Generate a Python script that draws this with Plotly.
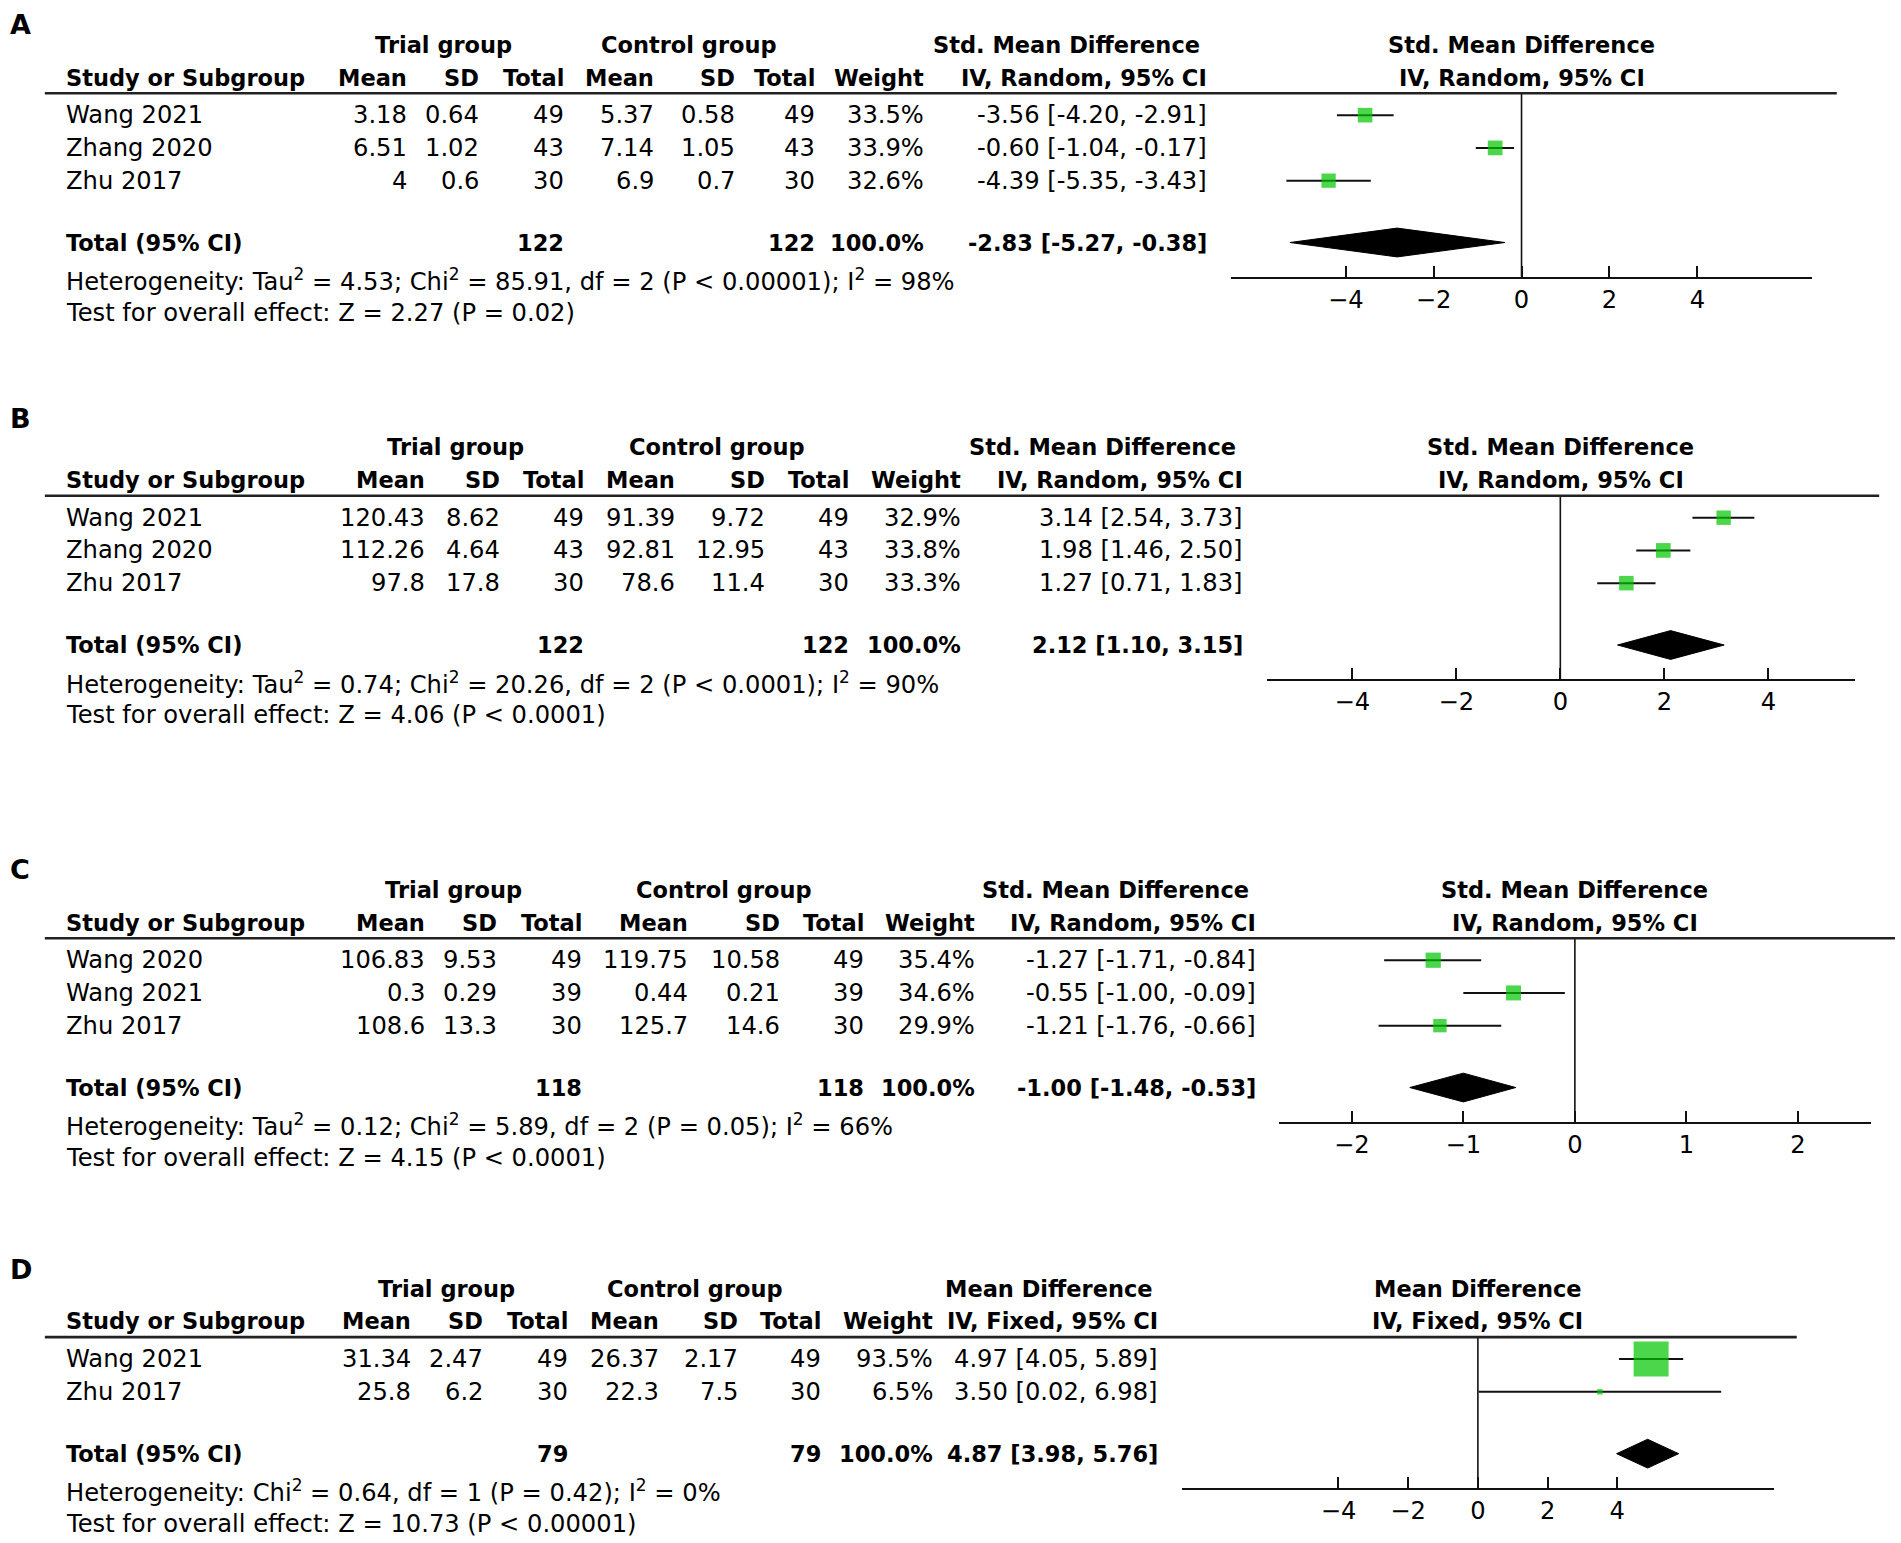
import plotly.graph_objects as go

W, H = 1901, 1543
S = W / 1568.0          # layout constants below are measured on a 1568-wide grid

# ------------------------------------------------------------------ data
A_study = ["Wang 2021", "Zhang 2020", "Zhu 2017"]
A_trial_mean = [3.18, 6.51, 4]
A_trial_sd = [0.64, 1.02, 0.6]
A_trial_n = [49, 43, 30]
A_ctrl_mean = [5.37, 7.14, 6.9]
A_ctrl_sd = [0.58, 1.05, 0.7]
A_ctrl_n = [49, 43, 30]
A_weight = [33.5, 33.9, 32.6]
A_total_weight = 100.0
A_est = [-3.56, -0.60, -4.39]
A_lo = [-4.20, -1.04, -5.35]
A_hi = [-2.91, -0.17, -3.43]
A_total = [-2.83, -5.27, -0.38]
A_ticks = [-4, -2, 0, 2, 4]
A_measure = ["Std. Mean Difference", "IV, Random, 95% CI"]
A_het = "Heterogeneity: Tau<sup>2</sup> = 4.53; Chi<sup>2</sup> = 85.91, df = 2 (P &lt; 0.00001); I<sup>2</sup> = 98%"
A_test = "Test for overall effect: Z = 2.27 (P = 0.02)"

B_study = ["Wang 2021", "Zhang 2020", "Zhu 2017"]
B_trial_mean = [120.43, 112.26, 97.8]
B_trial_sd = [8.62, 4.64, 17.8]
B_trial_n = [49, 43, 30]
B_ctrl_mean = [91.39, 92.81, 78.6]
B_ctrl_sd = [9.72, 12.95, 11.4]
B_ctrl_n = [49, 43, 30]
B_weight = [32.9, 33.8, 33.3]
B_total_weight = 100.0
B_est = [3.14, 1.98, 1.27]
B_lo = [2.54, 1.46, 0.71]
B_hi = [3.73, 2.50, 1.83]
B_total = [2.12, 1.10, 3.15]
B_ticks = [-4, -2, 0, 2, 4]
B_measure = ["Std. Mean Difference", "IV, Random, 95% CI"]
B_het = "Heterogeneity: Tau<sup>2</sup> = 0.74; Chi<sup>2</sup> = 20.26, df = 2 (P &lt; 0.0001); I<sup>2</sup> = 90%"
B_test = "Test for overall effect: Z = 4.06 (P &lt; 0.0001)"

C_study = ["Wang 2020", "Wang 2021", "Zhu 2017"]
C_trial_mean = [106.83, 0.3, 108.6]
C_trial_sd = [9.53, 0.29, 13.3]
C_trial_n = [49, 39, 30]
C_ctrl_mean = [119.75, 0.44, 125.7]
C_ctrl_sd = [10.58, 0.21, 14.6]
C_ctrl_n = [49, 39, 30]
C_weight = [35.4, 34.6, 29.9]
C_total_weight = 100.0
C_est = [-1.27, -0.55, -1.21]
C_lo = [-1.71, -1.00, -1.76]
C_hi = [-0.84, -0.09, -0.66]
C_total = [-1.00, -1.48, -0.53]
C_ticks = [-2, -1, 0, 1, 2]
C_measure = ["Std. Mean Difference", "IV, Random, 95% CI"]
C_het = "Heterogeneity: Tau<sup>2</sup> = 0.12; Chi<sup>2</sup> = 5.89, df = 2 (P = 0.05); I<sup>2</sup> = 66%"
C_test = "Test for overall effect: Z = 4.15 (P &lt; 0.0001)"

D_study = ["Wang 2021", "Zhu 2017"]
D_trial_mean = [31.34, 25.8]
D_trial_sd = [2.47, 6.2]
D_trial_n = [49, 30]
D_ctrl_mean = [26.37, 22.3]
D_ctrl_sd = [2.17, 7.5]
D_ctrl_n = [49, 30]
D_weight = [93.5, 6.5]
D_total_weight = 100.0
D_est = [4.97, 3.50]
D_lo = [4.05, 0.02]
D_hi = [5.89, 6.98]
D_total = [4.87, 3.98, 5.76]
D_ticks = [-4, -2, 0, 2, 4]
D_measure = ["Mean Difference", "IV, Fixed, 95% CI"]
D_het = "Heterogeneity: Chi<sup>2</sup> = 0.64, df = 1 (P = 0.42); I<sup>2</sup> = 0%"
D_test = "Test for overall effect: Z = 10.73 (P &lt; 0.00001)"

# ------------------------------------------------------------------ layout constants (1568 grid)
GEOM = {
    "A": dict(label_y=20, row0=95, cols=[337, 397, 467, 541, 608, 674, 764, 997],
              trial=366, ctrl=568, eff=880, line_r=1515, ax=(1015, 1495), zero=1255, unit=36.25),
    "B": dict(label_y=345, row0=427, cols=[352, 414, 483, 558, 633, 702, 794, 1027],
              trial=376, ctrl=591, eff=909, line_r=1550, ax=(1045, 1530), zero=1287, unit=42.9),
    "C": dict(label_y=717, row0=792, cols=[352, 412, 482, 569, 645, 714, 806, 1038],
              trial=374, ctrl=597, eff=920, line_r=1563, ax=(1055, 1543), zero=1299, unit=92.0),
    "D": dict(label_y=1047, row0=1121, cols=[341, 400, 470, 545, 610, 679, 771, 957],
              trial=368, ctrl=573, eff=865, line_r=1482, ax=(975, 1463), zero=1219, unit=28.75),
}
ROW = 27.0
LEFT_TXT = 53
LINE_L = 37
GREEN = "#00c400"
FONT = "DejaVu Sans"
FS = 24.2      # regular text
FSB = 22.5     # bold text

PANELS = [
    ("A", A_study, A_trial_mean, A_trial_sd, A_trial_n, A_ctrl_mean, A_ctrl_sd, A_ctrl_n,
     A_weight, A_total_weight, A_est, A_lo, A_hi, A_total, A_ticks, A_measure, A_het, A_test),
    ("B", B_study, B_trial_mean, B_trial_sd, B_trial_n, B_ctrl_mean, B_ctrl_sd, B_ctrl_n,
     B_weight, B_total_weight, B_est, B_lo, B_hi, B_total, B_ticks, B_measure, B_het, B_test),
    ("C", C_study, C_trial_mean, C_trial_sd, C_trial_n, C_ctrl_mean, C_ctrl_sd, C_ctrl_n,
     C_weight, C_total_weight, C_est, C_lo, C_hi, C_total, C_ticks, C_measure, C_het, C_test),
    ("D", D_study, D_trial_mean, D_trial_sd, D_trial_n, D_ctrl_mean, D_ctrl_sd, D_ctrl_n,
     D_weight, D_total_weight, D_est, D_lo, D_hi, D_total, D_ticks, D_measure, D_het, D_test),
]


def px(v):
    return v * S


def xp(v):
    return px(v) / W


def yp_px(v):
    return 1 - px(v) / H


def num(v):
    return f"{v:g}"


def eff(e, l, h):
    return f"{e:.2f} [{l:.2f}, {h:.2f}]"


fig = go.Figure()
annotations = []
shapes = []
layout_axes = {}


def ann(text, x, y, anchor="right", size=None, bold=False):
    if size is None:
        size = FSB if bold else FS
    if bold:
        text = f"<b>{text}</b>"
    annotations.append(dict(text=text, x=x, y=y, xref="paper", yref="paper",
                            xanchor=anchor, yanchor="middle", showarrow=False,
                            font=dict(family=FONT, size=size, color="black")))


for k, p in enumerate(PANELS, start=1):
    (name, study, tm, tsd, tn, cm, csd, cn, wt, twt, est, lo, hi, tot, ticks,
     measure, het, test) = p
    g = GEOM[name]
    n = len(study)

    def rowy(r):
        return yp_px(g["row0"] + r * ROW)

    r_head = -0.67
    r_total = n + 0.89
    r_axis = n + 1.93
    cols = g["cols"]

    # panel letter
    ann(name, xp(7), yp_px(g["label_y"]), anchor="left", size=27, bold=True)

    # header row 1
    ann("Trial group", xp(g["trial"]), rowy(-2.15), anchor="center", bold=True)
    ann("Control group", xp(g["ctrl"]), rowy(-2.15), anchor="center", bold=True)
    ann(measure[0], xp(g["eff"]), rowy(-2.15), anchor="center", bold=True)
    # header row 2
    ann("Study or Subgroup", xp(LEFT_TXT), rowy(-1.15), anchor="left", bold=True)
    for txt, c in zip(["Mean", "SD", "Total", "Mean", "SD", "Total", "Weight", measure[1]], cols):
        ann(txt, xp(c), rowy(-1.15), bold=True)

    # study rows
    for i in range(n):
        ann(study[i], xp(LEFT_TXT), rowy(i), anchor="left")
        vals = [num(tm[i]), num(tsd[i]), num(tn[i]), num(cm[i]), num(csd[i]), num(cn[i]),
                f"{wt[i]:.1f}%", eff(est[i], lo[i], hi[i])]
        for v, c in zip(vals, cols):
            ann(v, xp(c), rowy(i))

    # total row
    ann("Total (95% CI)", xp(LEFT_TXT), rowy(r_total), anchor="left", bold=True)
    ann(str(sum(tn)), xp(cols[2]), rowy(r_total), bold=True)
    ann(str(sum(cn)), xp(cols[5]), rowy(r_total), bold=True)
    ann(f"{twt:.1f}%", xp(cols[6]), rowy(r_total), bold=True)
    ann(eff(*tot), xp(cols[7]), rowy(r_total), bold=True)
    ann(het, xp(LEFT_TXT), rowy(r_total + 1.15), anchor="left")
    ann(test, xp(LEFT_TXT), rowy(r_total + 2.15), anchor="left")

    # header rule
    shapes.append(dict(type="line", xref="paper", yref="paper",
                       x0=xp(LINE_L), x1=xp(g["line_r"]), y0=rowy(r_head), y1=rowy(r_head),
                       line=dict(color="#222", width=2.6)))

    # axes for the forest plot
    xa = "xaxis" if k == 1 else f"xaxis{k}"
    ya = "yaxis" if k == 1 else f"yaxis{k}"
    xr = "x" if k == 1 else f"x{k}"
    yr = "y" if k == 1 else f"y{k}"
    axl, axr = g["ax"]
    layout_axes[xa] = dict(domain=[xp(axl), xp(axr)],
                           range=[(axl - g["zero"]) / g["unit"], (axr - g["zero"]) / g["unit"]],
                           anchor=yr, tickvals=ticks, ticks="inside", ticklen=11, tickwidth=2,
                           tickcolor="#111", showline=True, linecolor="#111", linewidth=2,
                           showgrid=False, zeroline=False, ticklabelstandoff=0,
                           tickfont=dict(family=FONT, size=FS, color="black"), fixedrange=True)
    layout_axes[ya] = dict(domain=[rowy(r_axis), rowy(r_head)], range=[r_axis, r_head],
                           anchor=xr, visible=False, fixedrange=True)

    # right-hand header
    mid = (xp(axl) + xp(axr)) / 2
    ann(measure[0], mid, rowy(-2.15), anchor="center", bold=True)
    ann(measure[1], mid, rowy(-1.15), anchor="center", bold=True)

    # line of no effect
    shapes.append(dict(type="line", xref=xr, yref=f"{yr} domain", x0=0, x1=0, y0=0, y1=1,
                       line=dict(color="#111", width=1.6), layer="below"))

    # pooled diamond
    hh = 0.44
    fig.add_trace(go.Scatter(x=[tot[1], tot[0], tot[2], tot[0], tot[1]],
                             y=[r_total, r_total - hh, r_total, r_total + hh, r_total],
                             mode="lines", fill="toself", fillcolor="black",
                             line=dict(color="black", width=1), xaxis=xr, yaxis=yr,
                             showlegend=False, hoverinfo="skip", cliponaxis=False))
    # study squares with CIs (box size grows with weight)
    fig.add_trace(go.Scatter(x=est, y=list(range(n)), mode="markers",
                             marker=dict(symbol="square", color=GREEN,
                                         size=[3.2 + 0.34 * w for w in wt],
                                         line=dict(width=0)),
                             error_x=dict(type="data", symmetric=False,
                                          array=[h - e for h, e in zip(hi, est)],
                                          arrayminus=[e - l for e, l in zip(est, lo)],
                                          color="#111", thickness=2, width=0),
                             xaxis=xr, yaxis=yr, showlegend=False, hoverinfo="skip",
                             cliponaxis=False))

fig.update_layout(width=W, height=H, margin=dict(l=0, r=0, t=0, b=0),
                  paper_bgcolor="white", plot_bgcolor="rgba(0,0,0,0)",
                  annotations=annotations, shapes=shapes, showlegend=False,
                  font=dict(family=FONT, size=FS, color="black"), **layout_axes)

fig.write_html("out.html", config={"displayModeBar": False},
               post_script="document.body.style.margin='0';document.body.style.padding='0';")
